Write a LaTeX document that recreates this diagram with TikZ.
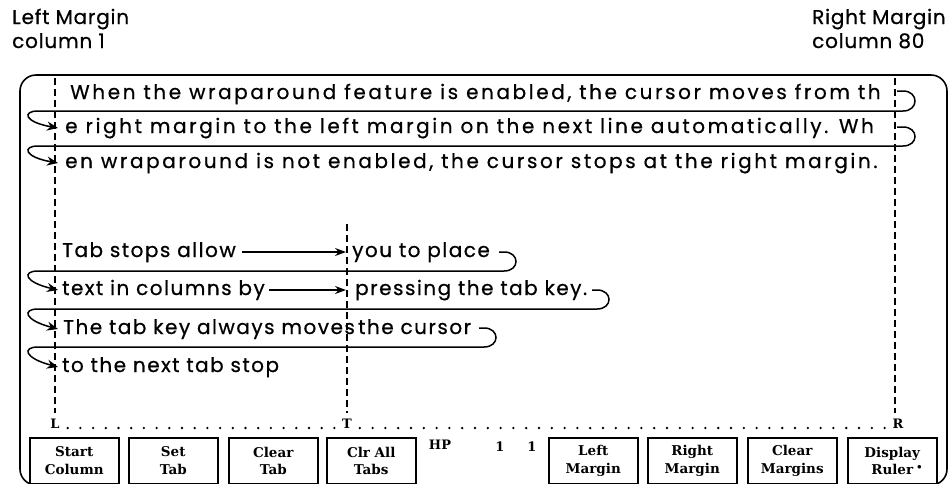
\documentclass[tikz,border=0pt]{standalone}
\usepackage{fontspec}
\setmainfont{Poppins}
\newfontfamily\btnfont{DejaVu Serif}
\newfontfamily\spacedfont[LetterSpace=13,FakeBold=0.6]{Poppins}
\newfontfamily\tabfont[LetterSpace=7.5,FakeBold=0.6]{Poppins}
\newfontfamily\lblfont[LetterSpace=4,FakeBold=0.6]{Poppins}
\usetikzlibrary{arrows.meta}
\tikzset{
  frame/.style={line width=1.6pt, rounded corners=16pt},
  margline/.style={line width=1.3pt, dash pattern=on 7pt off 4pt},
  txt/.style={anchor=base west, inner sep=0pt, font=\spacedfont\fontsize{20}{22}\selectfont},
  ttxt/.style={anchor=base west, inner sep=0pt, font=\tabfont\fontsize{20}{22}\selectfont},
  lbl/.style={anchor=base west, inner sep=0pt, font=\lblfont\fontsize{20}{22}\selectfont},
  wrap/.style={line width=1.5pt, -{Stealth[length=11pt,width=9pt]}},
  tabarrow/.style={line width=1.3pt, -{Stealth[length=11pt,width=8pt]}},
  btn/.style={draw, line width=1.5pt, minimum width=89pt, minimum height=46pt, anchor=north west, inner sep=0pt, align=center, font=\btnfont\bfseries\fontsize{13.5}{17.5}\selectfont},
  rulerlbl/.style={inner sep=0pt, font=\btnfont\bfseries\fontsize{13}{14}\selectfont},
  rdot/.style={fill, circle, inner sep=0pt, minimum size=2.6pt},
}
\begin{document}
\begin{tikzpicture}[x=1pt, y=-1pt]
\useasboundingbox (0,0) rectangle (952,483);
% top labels
\node[lbl] (lm1) at (12,24) {Left Margin};
\node[lbl] (lm2) at (12,48) {column 1};
\node[lbl] (rm1) at (812,24) {Right Margin};
\node[lbl] (rm2) at (812,48) {column 80};
% frame
\draw[frame] (20,75) rectangle (947,485);
% margin lines
\draw[margline] (55,78) -- (55,413);
\draw[margline] (895,78) -- (895,413);
\draw[margline] (347,224) -- (347,413);
% wrap text
\node[txt] (w1) at (70,99) {When the wraparound feature is enabled, the cursor moves from th};
\node[txt] (w2) at (65,133) {e right margin to the left margin on the next line automatically. Wh};
\node[txt] (w3) at (65,168) {en wraparound is not enabled, the cursor stops at the right margin.};
\coordinate (h1) at (897,91);
\coordinate (h2) at (897,127);
\coordinate (a2) at (58,128);
\coordinate (a3) at (58,163);
\draw[wrap] (h1) -- ++(6,0) .. controls +(16,0) and +(16,0) .. ++(0,20) -- (38,111) .. controls (22,111) and (24,122) .. (a2);
\draw[wrap] (h2) -- ++(6,0) .. controls +(16,0) and +(16,0) .. ++(0,19) -- (38,146) .. controls (22,146) and (24,157) .. (a3);
% tab text
\node[ttxt] (t1a) at (62,257) {Tab stops allow};
\node[ttxt] (t1b) at (352,257) {you to place};
\node[ttxt] (t2a) at (62,295) {text in columns by};
\node[ttxt] (t2b) at (355,295) {pressing the tab key.};
\node[ttxt] (t3a) at (63,334) {The tab key always moves};
\node[ttxt] (t3b) at (358,334) {the cursor};
\node[ttxt] (t4a) at (62,372) {to the next tab stop};
\coordinate (s1) at (242,252);
\coordinate (e1) at (346,252);
\coordinate (s2) at (269,290);
\coordinate (e2) at (346,290);
\draw[tabarrow] (s1) -- (e1);
\draw[tabarrow] (s2) -- (e2);
\coordinate (g1) at (499,252);
\coordinate (g2) at (592,290);
\coordinate (g3) at (479,328);
\coordinate (b2) at (58,290);
\coordinate (b3) at (58,329);
\coordinate (b4) at (58,367);
\draw[wrap] (g1) -- ++(5,0) .. controls +(16,0) and +(16,0) .. ++(0,19) -- (38,271) .. controls (22,271) and (24,282) .. (b2);
\draw[wrap] (g2) -- ++(5,0) .. controls +(16,0) and +(16,0) .. ++(0,19) -- (38,309) .. controls (22,309) and (24,320) .. (b3);
\draw[wrap] (g3) -- ++(5,0) .. controls +(16,0) and +(16,0) .. ++(0,19) -- (38,347) .. controls (22,347) and (24,358) .. (b4);
% ruler
\node[rulerlbl] (L) at (55,424) {L};
\node[rulerlbl] (T) at (347,424) {T};
\node[rulerlbl] (R) at (898,424) {R};
\foreach \i in {1,...,22} \node[rdot] at ({55+\i*12.7},428) {};
\foreach \i in {1,...,42} \node[rdot] at ({347+\i*12.8},428) {};
% buttons
\node[btn] (k1) at (29,437) {Start\\Column};
\node[btn] (k2) at (128,437) {Set\\Tab};
\node[btn] (k3) at (228,437) {Clear\\Tab};
\node[btn] (k4) at (326,437) {Clr All\\Tabs};
\node[rulerlbl] (hp) at (440,445) {HP};
\node[rulerlbl] (n1) at (500,447) {1};
\node[rulerlbl] (n2) at (532,447) {1};
\node[btn] (k5) at (548,437) {Left\\Margin};
\node[btn] (k6) at (647,437) {Right\\Margin};
\node[btn] (k7) at (747,437) {Clear\\Margins};
\node[btn] (k8) at (847,437) {Display\\Ruler\rlap{\hspace{4pt}\raisebox{5pt}{\small$\bullet$}}};
\end{tikzpicture}
\end{document}
